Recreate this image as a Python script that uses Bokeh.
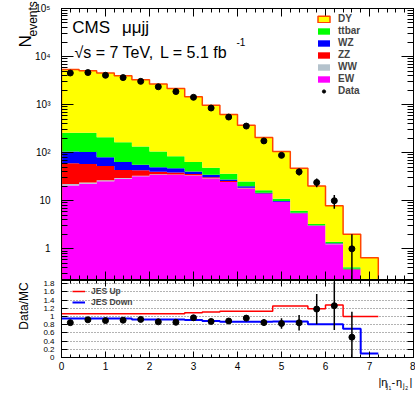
import numpy as np
from bokeh.plotting import figure
from bokeh.models import (Range1d, LinearAxis, LogAxis, SingleIntervalTicker, LogTicker, FixedTicker,
                          CustomJSTickFormatter, Legend, LegendItem)
from bokeh.core.properties import value
from bokeh.layouts import column
from bokeh.embed import file_html
from bokeh.resources import INLINE

FONT = "Liberation Sans"

# ---------------- data ----------------
bin_edges = [0.0, 0.4, 0.8, 1.2, 1.6, 2.0, 2.4, 2.8, 3.2, 3.6, 4.0, 4.4, 4.8, 5.2, 5.6, 6.0, 6.4, 6.8, 7.2]
dy    = [5089, 4789, 4319, 3844, 3145, 2594, 2090, 1401, 917, 583, 347, 190, 95, 41, 17.0, 6.5, 1.6, 0.5]
ttbar = [155, 158, 130, 102, 79, 56, 37, 23, 14, 8.7, 5.2, 1.7, 1.2, 0.6, 0.2, 0.1, 0.03, 0.0]
wz    = [46, 45, 28, 20, 13, 10, 9.0, 4.7, 4.0, 2.1, 1.3, 0.6, 0.3, 0.15, 0.05, 0.03, 0.01, 0.0]
zz    = [38, 34, 26, 14, 10, 4.5, 3.4, 2.1, 1.5, 1.0, 0.6, 0.25, 0.1, 0.05, 0.03, 0.02, 0.01, 0.0]
ww    = [1.5, 1.4, 1.2, 1.0, 0.8, 0.6, 0.5, 0.4, 0.3, 0.2, 0.15, 0.1, 0.05, 0.03, 0.02, 0.01, 0.005, 0.0]
ew    = [20.8, 22.6, 25.6, 28.7, 32.5, 34.8, 34.8, 33.6, 29.0, 24.5, 18.0, 13.8, 9.4, 5.4, 3.0, 1.25, 0.36, 0.15]
data  = [4550, 4650, 4080, 3650, 3050, 2350, 1870, 1420, 850, 552, 358, 176, 88, 40, 24, 10, 1]
ratio_err = [0.015, 0.015, 0.016, 0.017, 0.019, 0.02, 0.022, 0.027, 0.033, 0.04, 0.055, 0.08,
             0.13, 0.19, 0.37, 0.59, 0.62]
jes_up   = [1.07, 1.07, 1.07, 1.07, 1.07, 1.07, 1.07, 1.095, 1.11, 1.13, 1.13, 1.13, 1.26, 1.26, 1.19, 1.28, 1.0, 1.0]
jes_down = [0.95, 0.95, 0.95, 0.95, 0.93, 0.93, 0.93, 0.915, 0.89, 0.87, 0.87, 0.87, 0.88, 0.88, 0.81, 0.81, 0.70, 0.10]
ratio_ticks = [0, 0.2, 0.4, 0.6, 0.8, 1.0, 1.2, 1.4, 1.6, 1.8]

# ---------------- derived ----------------
edges = np.array(bin_edges)
nb = len(dy)
total = np.array(dy) + np.array(ttbar) + np.array(wz) + np.array(zz) + np.array(ww) + np.array(ew)
floor = 1e-3
xc = (edges[:-1] + edges[1:]) / 2
d = np.array(data, float)
xd = xc[:len(d)]

X0, X1 = 0, 8
Y1LO, Y1HI = 0.23, 1e5
Y2LO, Y2HI = 0, 1.88
xr = Range1d(X0, X1)

# ---------------- top panel ----------------
p1 = figure(width=415, height=280, x_range=xr, y_range=Range1d(Y1LO, Y1HI), y_axis_type="log",
            output_backend="svg", toolbar_location=None,
            min_border_left=61, min_border_right=2, min_border_top=8, min_border_bottom=1,
            x_axis_location=None, y_axis_location=None)
p1.grid.visible = False
p1.outline_line_color = "black"
p1.background_fill_color = "white"
p1.border_fill_color = "white"

comps = [("EW", ew, "#ff00ff", None), ("WW", ww, "#b4c2cc", None), ("ZZ", zz, "#ff0000", None),
         ("WZ", wz, "#0000ff", None), ("ttbar", ttbar, "#00ff00", None), ("DY", dy, "#ffff00", "#ff4500")]
lower = np.full(nb, floor)
proxies = {}
for name, vals, col, lc in comps:
    upper = lower + np.array(vals)
    p1.varea_step(x=edges, y1=np.append(lower, lower[-1]), y2=np.append(upper, upper[-1]),
                  step_mode="after", fill_color=col)
    proxies[name] = p1.quad(left=edges[:-1], right=edges[1:], bottom=np.full(nb, floor), top=np.array(vals) + floor,
                            fill_color=col, line_color=lc, line_width=1.5, visible=False)
    lower = upper

ox = np.repeat(edges, 2)
oy = np.concatenate([[floor], np.repeat(total, 2), [floor]])
p1.line(ox, oy, line_color="#ff4500", line_width=1.5)

err = np.sqrt(d)
p1.segment(x0=xd, y0=np.maximum(d - err, floor), x1=xd, y1=d + err, line_color="black", line_width=1.5)
data_r = p1.scatter(xd, d, size=6, color="black")

logfmt = CustomJSTickFormatter(code="""
const sup = {'0':'\u2070','1':'\u00b9','2':'\u00b2','3':'\u00b3','4':'\u2074','5':'\u2075','6':'\u2076','7':'\u2077','8':'\u2078','9':'\u2079','-':'\u207b'};
const e = Math.round(Math.log10(tick));
if (e == 0) return '1';
if (e == 1) return '10';
return '10' + String(e).split('').map(c => sup[c]).join('');
""")

def tick_style(ax, major_in, minor_in, fs="10px", standoff=0):
    ax.major_tick_in = major_in
    ax.major_tick_out = 0
    ax.minor_tick_in = minor_in
    ax.minor_tick_out = 0
    ax.axis_line_color = "black"
    ax.major_tick_line_color = "black"
    ax.minor_tick_line_color = "black"
    ax.major_label_standoff = standoff
    ax.major_label_text_font = FONT
    ax.major_label_text_color = "black"
    ax.major_label_text_font_size = fs

def ticks_only(ax, major_in, minor_in):
    tick_style(ax, major_in, minor_in, "1px", 0)
    ax.formatter = CustomJSTickFormatter(code="return '';")
    ax.major_label_text_alpha = 0

left1 = LogAxis(ticker=LogTicker(num_minor_ticks=10), formatter=logfmt)
tick_style(left1, 12, 6, "10px", 11)
p1.add_layout(left1, "left")
right1 = LogAxis(ticker=LogTicker(num_minor_ticks=10))
ticks_only(right1, 12, 6)
p1.add_layout(right1, "right")
below1 = LinearAxis(ticker=SingleIntervalTicker(interval=1, num_minor_ticks=5))
ticks_only(below1, 8, 4)
p1.add_layout(below1, "below")
above1 = LinearAxis(ticker=SingleIntervalTicker(interval=1, num_minor_ticks=5))
ticks_only(above1, 8, 4)
p1.add_layout(above1, "above")

leg1 = Legend(items=[LegendItem(label="DY", renderers=[proxies["DY"]]),
                     LegendItem(label="ttbar", renderers=[proxies["ttbar"]]),
                     LegendItem(label="WZ", renderers=[proxies["WZ"]]),
                     LegendItem(label="ZZ", renderers=[proxies["ZZ"]]),
                     LegendItem(label="WW", renderers=[proxies["WW"]]),
                     LegendItem(label="EW", renderers=[proxies["EW"]]),
                     LegendItem(label="Data", renderers=[data_r])],
              location=(255, 183), glyph_width=15, glyph_height=8, label_standoff=7, spacing=1,
              padding=0, margin=0, border_line_color=None, background_fill_alpha=0,
              label_text_font=FONT, label_text_font_style="bold", label_text_font_size="10px",
              label_height=10)
p1.add_layout(leg1)

def txt(p, ax, ay, fx, fy, px, py, text, size, angle=0, align="left"):
    # anchored at the frame's top-left corner, offset in pixels
    p.text(x=[ax], y=[ay], text=[text], x_offset=px - fx, y_offset=py - fy, angle=angle,
           text_font=value(FONT), text_font_size=value(size), text_align=align,
           text_baseline="alphabetic", text_color="black", level="overlay")

F1X, F1Y = 61, 8
txt(p1, X0, Y1HI, F1X, F1Y, 71.7, 27.3, "CMS", "17px")
txt(p1, X0, Y1HI, F1X, F1Y, 121.5, 27.3, "\u03bc\u03bcjj", "17px")
txt(p1, X0, Y1HI, F1X, F1Y, 74, 51.5, "\u221as = 7 TeV,", "16px")
txt(p1, X0, Y1HI, F1X, F1Y, 159.5, 51.5, "L = 5.1 fb", "16px")
txt(p1, X0, Y1HI, F1X, F1Y, 236, 41.5, "-1", "10px")
txt(p1, X0, Y1HI, F1X, F1Y, 25, 47, "N", "17px", angle=np.pi / 2)
txt(p1, X0, Y1HI, F1X, F1Y, 32, 36, "events", "12px", angle=np.pi / 2)

# ---------------- ratio panel ----------------
p2 = figure(width=415, height=119, x_range=xr, y_range=Range1d(Y2LO, Y2HI),
            output_backend="svg", toolbar_location=None,
            min_border_left=61, min_border_right=2, min_border_top=0, min_border_bottom=42,
            x_axis_location=None, y_axis_location=None)
p2.outline_line_color = "black"
p2.xgrid.visible = False
p2.ygrid.ticker = FixedTicker(ticks=ratio_ticks)
p2.ygrid.grid_line_color = "#666666"
p2.ygrid.grid_line_dash = "1 2"
p2.ygrid.grid_line_width = 1
p2.border_fill_color = "white"

ratio = d / total[:len(d)]
rerr = np.array(ratio_err)
up_r = p2.step(x=edges, y=np.append(jes_up, jes_up[-1]), mode="after", line_color="#ff0000", line_width=1.5)
dn_r = p2.step(x=edges, y=np.append(jes_down, jes_down[-1]), mode="after", line_color="#0000ff", line_width=2)
p2.segment(x0=xd, y0=ratio - rerr, x1=xd, y1=ratio + rerr, line_color="black", line_width=1.5)
p2.scatter(xd, ratio, size=6, color="black")

ratiofmt = CustomJSTickFormatter(code="return tick.toFixed(1).replace(/\\.0$/, '');")
left2 = LinearAxis(ticker=FixedTicker(ticks=ratio_ticks), formatter=ratiofmt)
tick_style(left2, 6, 0, "8px", 7)
p2.add_layout(left2, "left")
right2 = LinearAxis(ticker=FixedTicker(ticks=ratio_ticks))
ticks_only(right2, 6, 0)
p2.add_layout(right2, "right")
below2 = LinearAxis(ticker=SingleIntervalTicker(interval=1, num_minor_ticks=5))
tick_style(below2, 6, 3, "10px", 4)
p2.add_layout(below2, "below")
above2 = LinearAxis(ticker=SingleIntervalTicker(interval=1, num_minor_ticks=5))
ticks_only(above2, 6, 3)
p2.add_layout(above2, "above")

leg2 = Legend(items=[LegendItem(label="JES Up", renderers=[up_r]),
                     LegendItem(label="JES Down", renderers=[dn_r])],
              location=(11, 50), glyph_width=13, glyph_height=8, label_standoff=6, spacing=1,
              padding=0, margin=0, border_line_color=None, background_fill_alpha=0,
              label_text_font=FONT, label_text_font_style="bold", label_text_font_size="8.5px",
              label_height=10)
p2.add_layout(leg2)

F2X, F2Y = 61, 280
txt(p2, X0, Y2HI, F2X, F2Y, 23, 305.5, "Data/MC", "12px", angle=np.pi / 2, align="center")
txt(p2, X0, Y2HI, F2X, F2Y, 378, 381, "|\u03b7", "11px")
txt(p2, X0, Y2HI, F2X, F2Y, 386, 384.5, "j", "7px")
txt(p2, X0, Y2HI, F2X, F2Y, 388, 387, "1", "5px")
txt(p2, X0, Y2HI, F2X, F2Y, 391, 381, "-", "11px")
txt(p2, X0, Y2HI, F2X, F2Y, 395.5, 381, "\u03b7", "11px")
txt(p2, X0, Y2HI, F2X, F2Y, 402.5, 384.5, "j", "7px")
txt(p2, X0, Y2HI, F2X, F2Y, 404.8, 387, "2", "5px")
txt(p2, X0, Y2HI, F2X, F2Y, 409, 381, "|", "11px")

layout = column(p1, p2, spacing=0)
open("out.html", "w").write(file_html(layout, INLINE))
